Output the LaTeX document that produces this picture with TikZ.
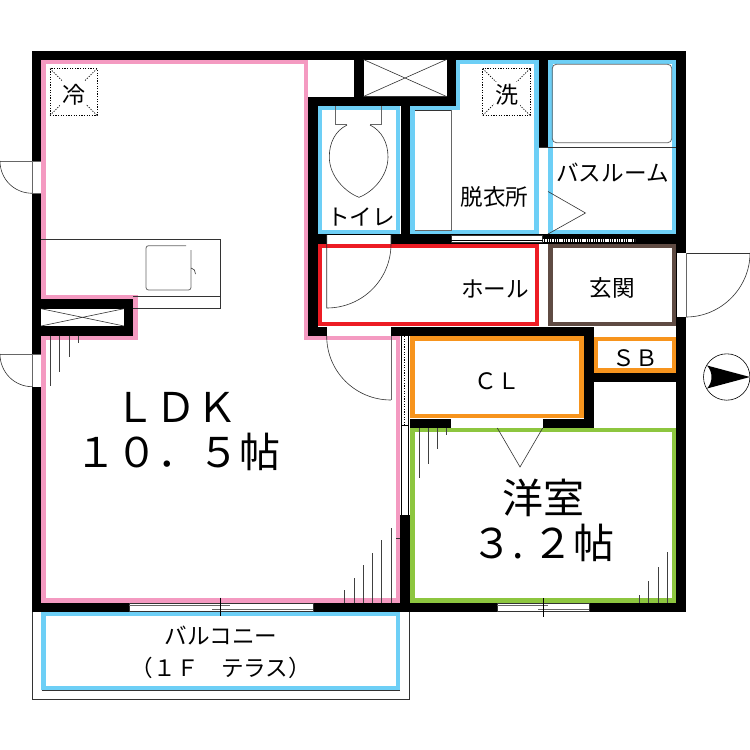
\documentclass[tikz,border=0pt]{standalone}
\usepackage{fontspec}
\setmainfont{Noto Sans CJK JP}
\definecolor{pinkband}{HTML}{F49AC1}
\definecolor{blueband}{HTML}{6DCFF6}
\definecolor{redband}{HTML}{ED1C24}
\definecolor{orangeband}{HTML}{F7941D}
\definecolor{greenband}{HTML}{8DC63F}
\definecolor{brownband}{HTML}{5F4B43}
\definecolor{fine}{HTML}{333333}
\tikzset{
  wall/.style={fill=black,draw=none},
  gap/.style={fill=white,draw=none},
  band/.style={line width=4.5pt,line join=miter},
  thin line/.style={draw=fine,line width=0.6pt},
  grey line/.style={draw=black!60,line width=0.8pt},
  tick/.style={draw=black!75,line width=0.7pt},
  dotbox/.style={draw=black,line width=0.7pt,dash pattern=on 1.2pt off 1.4pt},
  dotwhite/.style={draw=white,line width=3pt,dash pattern=on 1.4pt off 0.9pt},
  small/.style={inner sep=0,font=\fontsize{22.6}{22.6}\selectfont},
  large/.style={inner sep=0,font=\fontsize{41}{41}\selectfont},
}
\begin{document}
\begin{tikzpicture}[x=1pt,y=-1pt]
\useasboundingbox (0,0) rectangle (750,750);
\fill[white] (0,0) rectangle (750,750);
% coloured room bands
\draw[band,pinkband] (43.3,61.8) -- (306,61.8) -- (306,337.8) -- (397.8,337.8) -- (397.8,600.5) -- (43.3,600.5) -- (43.3,337.8) -- (135.5,337.8) -- (135.5,297.5) -- (43.3,297.5) -- cycle;
\draw[band,blueband] (412.3,108) -- (457.9,108) -- (457.9,61.8) -- (536.3,61.8) -- (536.3,232) -- (412.3,232) -- cycle;
\draw[band,blueband] (319.7,108) rectangle (398.2,232);
\draw[band,blueband] (550.3,61.8) rectangle (673.8,232);
\draw[band,redband] (319.8,246.2) rectangle (537,324.2);
\draw[band,brownband] (550.3,246.2) rectangle (673.8,324.2);
\draw[band,orangeband] (412.3,338.3) rectangle (581.7,416.2);
\draw[band,orangeband] (595.7,338.8) rectangle (673.8,370.4);
\draw[band,greenband] (412.3,430.2) rectangle (673.8,600.5);
\draw[band,blueband] (43.7,614.2) rectangle (397.8,688);
% walls
\fill[wall] (32,50.5) rectangle (685.7,59.5);
\fill[wall] (32,50.5) rectangle (41,611.7);
\fill[wall] (676,50.5) rectangle (685.7,611.7);
\fill[wall] (32,602.7) rectangle (685.7,611.7);
\fill[wall] (308,97) rectangle (456,106);
\fill[wall] (354,59) rectangle (363.5,97);
\fill[wall] (446.5,59) rectangle (455.7,106);
\fill[wall] (308,97) rectangle (317.5,336);
\fill[wall] (400.5,106) rectangle (410,244);
\fill[wall] (538.5,59) rectangle (548,147);
\fill[wall] (308,234.3) rectangle (676,244);
\fill[wall] (308,326.7) rectangle (593.5,336);
\fill[wall] (584,326.7) rectangle (593.5,427.7);
\fill[wall] (410,418.5) rectangle (593.5,427.7);
\fill[wall] (593,372.5) rectangle (676,381.7);
\fill[wall] (400,515.3) rectangle (409.5,603);
\fill[wall] (32,299) rectangle (133,335.5);
% openings
\fill[gap] (41,308.7) rectangle (124,326);
\fill[gap] (32.5,161) rectangle (41,193.3);
\fill[gap] (32.5,354) rectangle (41,386.7);
\fill[gap] (326.7,234.5) rectangle (391,243.8);
\fill[gap] (326.7,327) rectangle (391,335.7);
\fill[gap] (451,235) rectangle (542.5,242.7);
\fill[gap] (539,147) rectangle (548,234.3);
\fill[gap] (539,244) rectangle (548,326.7);
\fill[gap] (677,253) rectangle (685.7,317);
\fill[gap] (451,418.7) rectangle (543,427.5);
\fill[gap] (401,336) rectangle (409.5,515);
\fill[gap] (129,603) rectangle (313,611.5);
\fill[gap] (497,603) rectangle (589,611.5);
% sliding doors
\draw[thin line] (451,235) rectangle (542.5,242.7);
\draw[thin line,black,line width=0.9pt] (451,240) -- (542.5,240);
\draw[dotwhite] (543,240.2) -- (635,240.2);
\draw[dotbox] (404.5,336) -- (404.5,425);
\draw[thin line,black] (401,336) -- (401,515) (408,336) -- (408,515);
\draw[thin line,black] (401,425.3) -- (408,425.3) (401,515) -- (408,515);
% balcony and windows
\draw[thin line] (32,612) -- (32,699.3) -- (409.3,699.3) -- (409.3,612);
\draw[thin line] (41.5,690) -- (400,690);
\draw[thin line] (129,603) rectangle (313,611.5);
\draw[grey line,line width=1pt] (129,605) -- (230,605) (212,609) -- (313,609);
\draw[tick,black] (220.5,597.7) -- (220.5,616);
\draw[thin line] (497,603) rectangle (589,611.5);
\draw[grey line,line width=1pt] (497,605) -- (548,605) (538,609) -- (589,609);
\draw[tick,black] (543,598.3) -- (543,616.7);
% doors
\draw[grey line] (0,161) -- (41,161) (32.5,161) -- (32.5,193.3) -- (41,193.3);
\draw[thin line] (0,161) .. controls (0,179) and (14,193.3) .. (32.5,193.3);
\draw[grey line] (0,354) -- (41,354) (32.5,354) -- (32.5,386.7);
\draw[thin line] (0,354) .. controls (0,372) and (14,386.7) .. (32.5,386.7);
\draw[thin line] (326.7,235) -- (326.7,308) .. controls (362.3,308) and (391,279.6) .. (391,244) -- (391,235);
\draw[thin line] (326.7,336) .. controls (326.7,371.6) and (355.4,400) .. (391,400);
\draw[grey line] (391,336) -- (391,400);
\draw[thin line] (686,253) -- (750,253);
\draw[thin line] (750,253) .. controls (750,288) and (721,317) .. (686,317);
\draw[grey line] (686,253) -- (686,317);
\draw[thin line] (548,191.5) -- (585.5,213) -- (548,234);
\draw[thin line] (497.3,428) -- (520,467) -- (542.7,428);
% X boxes
\draw[thin line] (41,308.7) -- (124,326) (41,326) -- (124,308.7);
\draw[thin line] (363.5,59.5) -- (446.5,96.5) (363.5,96.5) -- (446.5,59.5);
\draw[thin line] (363.5,96.5) -- (446.5,96.5);
% kitchen
\draw[thin line] (41,239) -- (220.7,239) -- (220.7,308) -- (133,308);
\draw[thin line] (133,296.7) -- (220.7,296.7);
\draw[grey line,rounded corners=2.5pt] (186,245.7) -- (146,245.7) -- (146,290) -- (191,290) -- (191,250);
\draw[thin line] (191,268) .. controls (194,268) and (195.5,271) .. (195.5,274);
% appliances
\draw[dotbox] (50,68.7) rectangle (97,115.3);
\draw[dotbox] (50,68.7) -- (97,115.3) (50,115.3) -- (97,68.7);
\draw[dotbox] (482.7,68.7) rectangle (530,115.3);
\draw[dotbox] (482.7,68.7) -- (530,115.3) (482.7,115.3) -- (530,68.7);
\fill[white] (60,81) rectangle (86,107);
\fill[white] (494,82) rectangle (520,108);
\node[small,font=\fontsize{23}{23}\selectfont] (fridge) at (73.5,94.5) {冷};
\node[small,font=\fontsize{23}{23}\selectfont] (washer) at (506.5,95) {洗};
% bath, shelf, toilet
\draw[grey line,rounded corners=4pt] (552.3,64.3) rectangle (671.7,142.7);
\draw[thin line] (539,147) -- (676,147);
\draw[thin line] (414.5,110) -- (451,110);
\draw[grey line] (451,110) -- (451,230) -- (414.5,230);
\draw[grey line] (335.7,106) -- (335.7,124) -- (347,124);
\draw[grey line] (381.7,106) -- (381.7,124) -- (370,124);
\draw[thin line] (347,125) .. controls (335,131) and (329.3,143) .. (329.3,157) .. controls (329.3,176) and (345,192) .. (359,197.3) .. controls (373,192) and (388,176) .. (388,157) .. controls (388,143) and (382,131) .. (370,125);
% hatching
\foreach \px/\py in {50.3/385.7,59.7/371.7,69/357.3,78.3/342.7}{\draw[tick] (\px,335.5) -- (\px,\py);}
\foreach \px/\py in {391/528.3,381.7/540,372.7/552.7,363.3/565,354/577.7,344.7/590}{\draw[tick] (\px,602.7) -- (\px,\py);}
\foreach \px/\py in {419/478,428/464,437/449.3,446/435}{\draw[tick] (\px,428) -- (\px,\py);}
\foreach \px/\py in {667.3/552,658/566.7,648.7/581,639.3/595}{\draw[tick] (\px,602.7) -- (\px,\py);}
\draw[thin line] (396,538) -- (400,538);
% compass
\draw[thin line,black] (726.7,377) circle[radius=23.2];
\fill[black] (750,377) -- (707,365.5) .. controls (713,372) and (713,382) .. (707,388.5) -- cycle;
% labels
\node[small] (toilet) at (361,217) {トイレ};
\node[small] (datsui) at (494.5,197) {脱衣所};
\node[small] (bath) at (612.5,173) {バスルーム};
\node[small] (hall) at (495,288.5) {ホール};
\node[small] (genkan) at (612,288) {玄関};
\node[small] (cl) at (497,381) {ＣＬ};
\node[small] (sb) at (635.5,358) {ＳＢ};
\node[large] (youshitsu) at (543.5,498) {洋室};
\node[large] (youarea) at (543,543) {３.\kern0.2em２帖};
\node[large] (ldk) at (176,407) {ＬＤＫ};
\node[large] (ldkarea) at (177.5,452) {１０．５帖};
\node[small] (balcony) at (221,636) {バルコニー};
\node[small] (terrace) at (221,668) {（１Ｆ　テラス）};
\end{tikzpicture}
\end{document}
